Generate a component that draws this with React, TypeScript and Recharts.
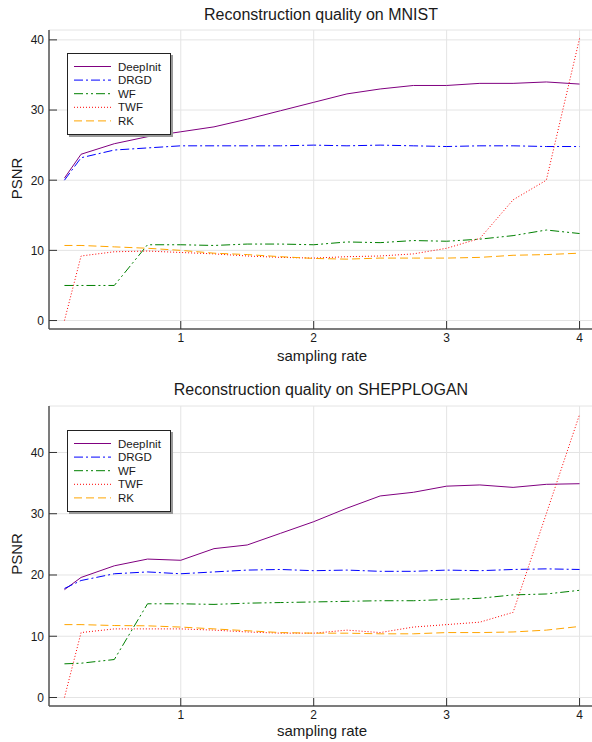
import React from 'react';
import { LineChart, Line, XAxis, YAxis, CartesianGrid, Legend } from 'recharts';

const samplingRates = [0.125, 0.25, 0.5, 0.75, 1, 1.25, 1.5, 1.75, 2, 2.25, 2.5, 2.75, 3, 3.25, 3.5, 3.75, 4];
const seriesNames = ['DeepInit', 'DRGD', 'WF', 'TWF', 'RK'];
const xTicks = [1, 2, 3, 4];
const yTicks = [0, 10, 20, 30, 40];

const mnistTitle = 'Reconstruction quality on MNIST';
const mnistDeepInit = [20.3, 23.7, 25.2, 26.2, 26.9, 27.6, 28.7, 29.9, 31.1, 32.3, 33.0, 33.5, 33.5, 33.8, 33.8, 34.0, 33.7];
const mnistDRGD = [20.0, 23.2, 24.3, 24.6, 24.9, 24.9, 24.9, 24.9, 25.0, 24.9, 25.0, 24.9, 24.8, 24.9, 24.9, 24.8, 24.8];
const mnistWF = [5.0, 5.0, 5.0, 10.8, 10.8, 10.7, 10.9, 10.9, 10.8, 11.2, 11.1, 11.4, 11.3, 11.6, 12.1, 12.9, 12.4];
const mnistTWF = [0, 9.2, 9.8, 9.9, 9.7, 9.5, 9.2, 9.0, 8.9, 9.1, 9.2, 9.5, 10.3, 11.7, 17.2, 20.0, 40.2];
const mnistRK = [10.7, 10.7, 10.5, 10.3, 10.0, 9.6, 9.4, 9.1, 8.85, 8.75, 8.9, 8.9, 8.9, 9.0, 9.3, 9.4, 9.6];

const sheppTitle = 'Reconstruction quality on SHEPPLOGAN';
const sheppDeepInit = [17.6, 19.6, 21.5, 22.6, 22.4, 24.3, 24.9, 26.8, 28.7, 30.9, 32.9, 33.5, 34.5, 34.7, 34.3, 34.8, 34.9];
const sheppDRGD = [17.8, 19.1, 20.2, 20.5, 20.2, 20.5, 20.8, 20.9, 20.7, 20.8, 20.6, 20.6, 20.8, 20.7, 20.9, 21.0, 20.9];
const sheppWF = [5.5, 5.6, 6.2, 15.3, 15.3, 15.2, 15.4, 15.5, 15.6, 15.7, 15.8, 15.8, 16.0, 16.2, 16.75, 16.9, 17.5];
const sheppTWF = [0, 10.6, 11.2, 11.2, 11.2, 11.0, 10.7, 10.5, 10.5, 11.0, 10.6, 11.5, 11.9, 12.3, 13.9, 30.0, 46.2];
const sheppRK = [11.9, 11.9, 11.75, 11.7, 11.5, 11.2, 10.9, 10.6, 10.5, 10.5, 10.4, 10.4, 10.6, 10.6, 10.7, 11.0, 11.6];

const FONT = '"Liberation Sans", Arial, Helvetica, sans-serif';
const TEXT = '#1a1a1a';

const seriesStyle: Record<string, { color: string; dash?: string }> = {
  DeepInit: { color: '#800080' },
  DRGD: { color: '#0000ff', dash: '9 3 2 3' },
  WF: { color: '#008000', dash: '9 3 2 3 2 3' },
  TWF: { color: '#ff0000', dash: '1 2' },
  RK: { color: '#ffa500', dash: '8 4' },
};

function buildRows(cols: number[][]) {
  return samplingRates.map((x, i) => {
    const row: Record<string, number> = { x };
    seriesNames.forEach((n, k) => {
      row[n] = cols[k][i];
    });
    return row;
  });
}

const mnistRows = buildRows([mnistDeepInit, mnistDRGD, mnistWF, mnistTWF, mnistRK]);
const sheppRows = buildRows([sheppDeepInit, sheppDRGD, sheppWF, sheppTWF, sheppRK]);

function widen(lo: number, hi: number): [number, number] {
  const pad = (hi - lo) * 0.03;
  return [lo - pad, hi + pad];
}

const xDomain = widen(0.125, 4);

const YTick = (props: any) => {
  const { x, y, payload } = props;
  const ax = x + 5;
  return (
    <g>
      <line x1={ax} x2={ax + 8} y1={y} y2={y} stroke="#333" strokeWidth={1} />
      <text x={x} y={y} dy="0.36em" textAnchor="end" fontSize={12} fill={TEXT} fontFamily={FONT}>
        {payload.value}
      </text>
    </g>
  );
};

const XTick = (props: any) => {
  const { x, y, payload } = props;
  const ay = y - 4.5;
  return (
    <g>
      <line x1={x} x2={x} y1={ay} y2={ay - 8} stroke="#333" strokeWidth={1} />
      <text x={x} y={y} dy="0.72em" textAnchor="middle" fontSize={12} fill={TEXT} fontFamily={FONT}>
        {payload.value}
      </text>
    </g>
  );
};

const LegendBox = () => (
  <svg width={108} height={86} style={{ display: 'block' }}>
    <rect x={2} y={2} width={104} height={82} fill="#9a9a9a" />
    <rect x={0.5} y={0.5} width={103} height={81} fill="#ffffff" stroke="#222" strokeWidth={1} />
    {seriesNames.map((n, i) => {
      const cy = 13.5 + i * 13.6;
      const st = seriesStyle[n];
      return (
        <g key={n}>
          <line x1={7} x2={44} y1={cy} y2={cy} stroke={st.color} strokeWidth={1} strokeDasharray={st.dash} />
          <text x={51} y={cy} dy="0.36em" fontSize={11.5} fill={TEXT} fontFamily={FONT}>
            {n}
          </text>
        </g>
      );
    })}
  </svg>
);

function Panel(props: { rows: any[]; yMax: number; height: number; top: number; bottom: number; legendTop: number }) {
  const { rows, yMax, height, top, bottom, legendTop } = props;
  const yDomain = widen(0, yMax);
  return (
    <LineChart
      width={600}
      height={height}
      data={rows}
      margin={{ top, left: 0, right: 5, bottom: 0 }}
    >
      <CartesianGrid stroke="#e4e4e4" strokeWidth={1} />
      <XAxis
        dataKey="x"
        type="number"
        domain={xDomain}
        ticks={xTicks}
        allowDataOverflow
        height={bottom}
        tickSize={0}
        tickMargin={4.5}
        tick={<XTick />}
        axisLine={{ stroke: '#555', strokeWidth: 1.5 }}
        tickLine={false}
      />
      <YAxis
        type="number"
        domain={yDomain}
        ticks={yTicks}
        allowDataOverflow
        width={49}
        tickSize={0}
        tickMargin={5}
        tick={<YTick />}
        axisLine={{ stroke: '#555', strokeWidth: 1.5 }}
        tickLine={false}
      />
      {seriesNames.map((n) => (
        <Line
          key={n}
          type="linear"
          dataKey={n}
          name={n}
          stroke={seriesStyle[n].color}
          strokeWidth={1}
          strokeDasharray={seriesStyle[n].dash}
          dot={false}
          activeDot={false}
          isAnimationActive={false}
        />
      ))}
      <Legend
        layout="vertical"
        align="center"
        verticalAlign="middle"
        content={() => <LegendBox />}
        wrapperStyle={{ position: 'absolute', left: 67, top: legendTop, width: 108, height: 86 }}
      />
    </LineChart>
  );
}

export default function App() {
  return (
    <div
      style={{
        position: 'absolute',
        left: 0,
        top: 0,
        width: 592,
        height: 742,
        overflow: 'hidden',
        background: '#fff',
      }}
    >
      <div style={{ position: 'absolute', left: 0, top: 0 }}>
        <Panel rows={mnistRows} yMax={40.2} height={370} top={30} bottom={41} legendTop={53} />
      </div>
      <div style={{ position: 'absolute', left: 0, top: 370 }}>
        <Panel rows={sheppRows} yMax={46.2} height={372} top={36} bottom={36} legendTop={60} />
      </div>
      <svg
        width={592}
        height={742}
        style={{ position: 'absolute', left: 0, top: 0, pointerEvents: 'none' }}
        fontFamily={FONT}
        fill={TEXT}
      >
        <text x={321} y={20} textAnchor="middle" fontSize={16}>{mnistTitle}</text>
        <text x={322} y={361} textAnchor="middle" fontSize={15}>sampling rate</text>
        <text transform="translate(22,178.5) rotate(-90)" textAnchor="middle" fontSize={15}>PSNR</text>
        <text x={321} y={395} textAnchor="middle" fontSize={16}>{sheppTitle}</text>
        <text x={322} y={736} textAnchor="middle" fontSize={15}>sampling rate</text>
        <text transform="translate(22,554) rotate(-90)" textAnchor="middle" fontSize={15}>PSNR</text>
      </svg>
    </div>
  );
}
